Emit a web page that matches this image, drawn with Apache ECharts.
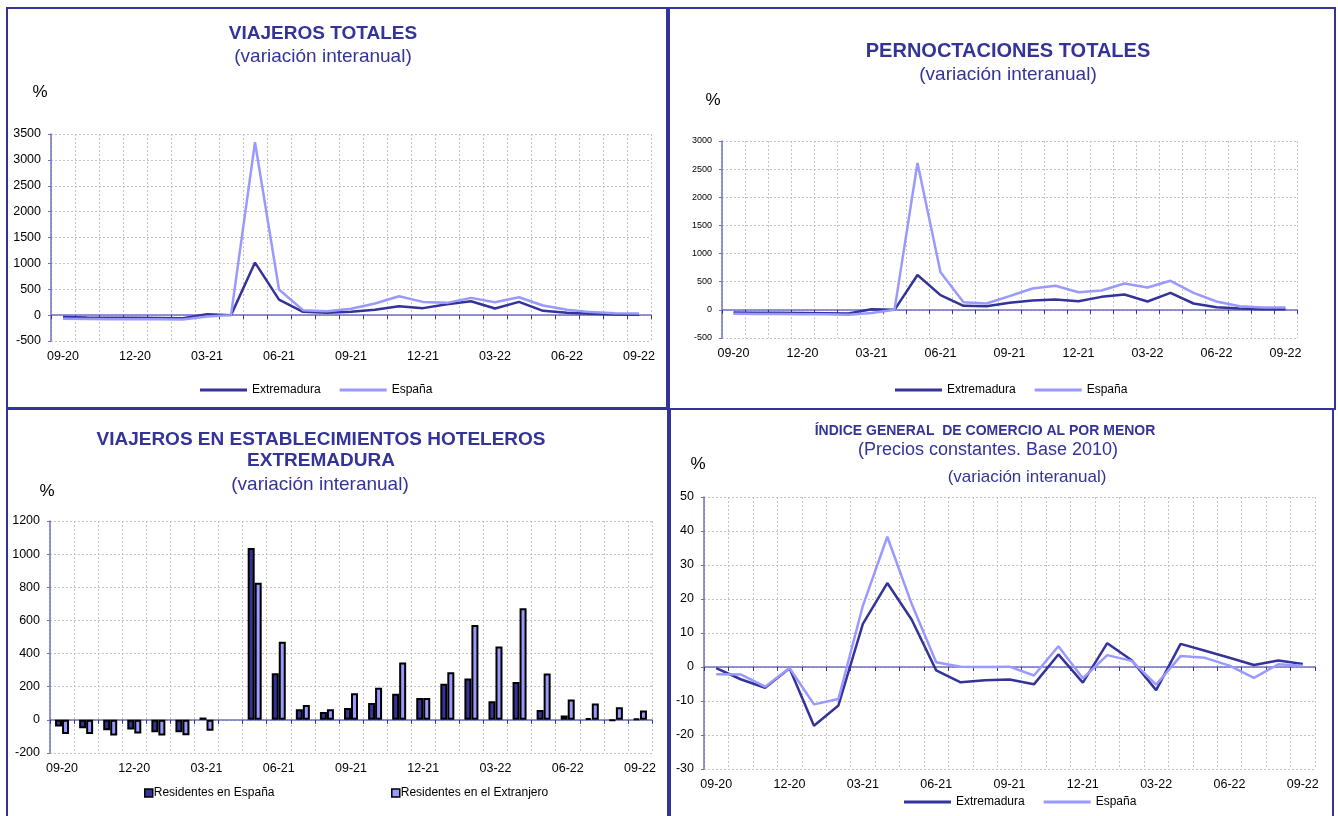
<!DOCTYPE html>
<html>
<head>
<meta charset="utf-8">
<script src="https://cdn.jsdelivr.net/npm/echarts@6/dist/echarts.min.js"></script>
<style>
  html, body { margin: 0; padding: 0; background: #fff; }
  #chart { width: 1338px; height: 816px; }
</style>
</head>
<body>
<div id="chart"></div>
<script>
// months on every x axis
const months = [
  "09-20", "10-20", "11-20", "12-20", "01-21", "02-21", "03-21", "04-21",
  "05-21", "06-21", "07-21", "08-21", "09-21", "10-21", "11-21", "12-21",
  "01-22", "02-22", "03-22", "04-22", "05-22", "06-22", "07-22", "08-22", "09-22",
];

// Viajeros totales (%)
const viajerosExt = [-35, -45, -50, -50, -55, -60, 15, 0, 1015, 300, 64, 45, 64, 103, 173, 135, 212, 269, 128, 256, 83, 45, 26, 13, 6];
const viajerosEsp = [-70, -75, -80, -80, -80, -85, -25, 0, 3340, 494, 96, 77, 122, 224, 365, 256, 237, 333, 250, 346, 186, 103, 58, 38, 32];

// Pernoctaciones totales (%)
const pernoctExt = [-45, -50, -50, -55, -60, -65, 10, 0, 620, 261, 71, 65, 125, 166, 184, 154, 231, 273, 148, 302, 113, 47, 24, 12, 12];
const pernoctEsp = [-70, -75, -75, -80, -80, -85, -55, 0, 2610, 670, 136, 113, 243, 380, 427, 314, 344, 469, 397, 516, 302, 148, 65, 42, 42];

// Viajeros en establecimientos hoteleros, Extremadura (%)
const hotelResEsp = [-40, -50, -62, -58, -75, -75, 14, null, 1037, 282, 64, 48, 71, 102, 158, 132, 218, 250, 112, 228, 60, 27, 11, -4, 7];
const hotelResExt = [-85, -85, -95, -83, -95, -93, -66, null, 828, 471, 90, 64, 160, 193, 346, 132, 287, 572, 443, 673, 280, 123, 98, 76, 56];

// Indice general de comercio al por menor (%)
const comercioExt = [-0.3, -3.6, -6.1, -0.4, -17.3, -11.3, 12.7, 24.7, 13.9, -1.0, -4.5, -3.9, -3.7, -5.1, 3.7, -4.6, 7.0, 2.0, -6.8, 6.8, 4.8, 2.7, 0.6, 1.9, 0.9];
const comercioEsp = [-2.1, -2.2, -5.8, -0.3, -11.0, -9.4, 18.0, 38.3, 18.5, 1.4, 0.1, 0.0, 0.1, -2.5, 6.1, -3.3, 3.5, 1.8, -5.2, 3.2, 2.7, 0.4, -3.2, 0.8, 0.4];

const FONT = '"Liberation Sans", Arial, sans-serif';
const DARK = "#333399";
const LIGHT = "#9999ff";
const AXIS = "#7070c0";
const GRIDLINE = "#c4c4c4";

const chart = echarts.init(document.getElementById("chart"));

// two x axes per grid: one at the bottom with labels + grid lines, one on the zero line with ticks
const xAxesFor = (g) => [
  {
    type: "category", gridIndex: g, data: months, boundaryGap: true, position: "bottom",
    axisLine: { show: false, onZero: false },
    axisTick: { show: false },
    axisLabel: { interval: 2, color: "#000", fontSize: 12.5, fontFamily: FONT, margin: 9 },
    splitLine: { show: true, interval: 0, lineStyle: { type: [2, 2], color: GRIDLINE } },
  },
  {
    type: "category", gridIndex: g, data: months, boundaryGap: true, position: "bottom",
    axisLine: { show: true, onZero: true, lineStyle: { color: AXIS, width: 1.5 } },
    axisTick: { show: true, interval: 0, length: 4, lineStyle: { color: DARK } },
    axisLabel: { show: false },
    splitLine: { show: false },
  },
];

const yAxisFor = (g, min, max, interval, fontSize) => ({
  type: "value", gridIndex: g, min, max, interval,
  axisLine: { show: true, lineStyle: { color: AXIS, width: 1.5 } },
  axisTick: { show: true, length: 3, lineStyle: { color: AXIS } },
  axisLabel: { color: "#000", fontSize, fontFamily: FONT, margin: 10, formatter: (v) => String(v) },
  splitLine: { show: true, lineStyle: { type: [2, 2], color: GRIDLINE } },
});

const lineSeries = (name, g, data, color) => ({
  name, type: "line", xAxisIndex: 2 * g, yAxisIndex: g, data,
  symbol: "none", lineStyle: { width: 2.5, color }, itemStyle: { color },
});

const barSeries = (name, data, color) => ({
  name, type: "bar", xAxisIndex: 4, yAxisIndex: 2, data,
  barWidth: 7, barGap: "0%",
  itemStyle: { color, borderColor: "#000", borderWidth: 2 },
});

const lineLegend = (left, top) => ({
  data: ["Extremadura", "España"], left, top, padding: 0,
  icon: "rect", itemWidth: 47, itemHeight: 3, itemGap: 19,
  textStyle: { fontSize: 12, color: "#000", fontFamily: FONT },
});

const barLegend = (name, left, top) => ({
  data: [name], left, top, padding: 0,
  icon: "rect", itemWidth: 8, itemHeight: 8,
  itemStyle: { borderColor: "#000", borderWidth: 1.5 },
  textStyle: { fontSize: 12, color: "#000", fontFamily: FONT, padding: [0, 0, 0, -4] },
});

const label = (text, x, y, font, fill) => ({
  type: "text", x, y, silent: true,
  style: {
    text, fill: fill || DARK, font,
    align: "center", verticalAlign: "middle",
    textAlign: "center", textVerticalAlign: "middle",
  },
});

const panel = (x, y, width, height) => ({
  type: "rect", silent: true,
  shape: { x, y, width, height },
  style: { fill: null, stroke: DARK, lineWidth: 2 },
});

const option = {
  backgroundColor: "#fff",
  animation: false,
  grid: [
    { left: 51, top: 134, width: 600, height: 207, outerBoundsMode: "none" },
    { left: 722, top: 141, width: 575, height: 197, outerBoundsMode: "none" },
    { left: 50, top: 521, width: 602, height: 232, outerBoundsMode: "none" },
    { left: 704, top: 497, width: 611, height: 272, outerBoundsMode: "none" },
  ],
  xAxis: [...xAxesFor(0), ...xAxesFor(1), ...xAxesFor(2), ...xAxesFor(3)],
  yAxis: [
    yAxisFor(0, -500, 3500, 500, 12.5),
    yAxisFor(1, -500, 3000, 500, 9),
    yAxisFor(2, -200, 1200, 200, 12.5),
    yAxisFor(3, -30, 50, 10, 12.5),
  ],
  legend: [
    lineLegend(200, 384),
    lineLegend(895, 384),
    barLegend("Residentes en España", 144, 787),
    barLegend("Residentes en el Extranjero", 391, 787),
    lineLegend(904, 796),
  ],
  series: [
    lineSeries("Extremadura", 0, viajerosExt, DARK),
    lineSeries("España", 0, viajerosEsp, LIGHT),
    lineSeries("Extremadura", 1, pernoctExt, DARK),
    lineSeries("España", 1, pernoctEsp, LIGHT),
    barSeries("Residentes en España", hotelResEsp, DARK),
    barSeries("Residentes en el Extranjero", hotelResExt, LIGHT),
    lineSeries("Extremadura", 3, comercioExt, DARK),
    lineSeries("España", 3, comercioEsp, LIGHT),
  ],
  graphic: [
    panel(7, 8, 660, 400),
    panel(669, 8, 666, 401),
    panel(7, 409, 661, 410),
    panel(670, 409, 663, 410),

    label("VIAJEROS TOTALES", 323, 34, "bold 19px " + FONT),
    label("(variación interanual)", 323, 57, "19px " + FONT),
    label("%", 40, 92, "17px " + FONT, "#000"),

    label("PERNOCTACIONES TOTALES", 1008, 51, "bold 20px " + FONT),
    label("(variación interanual)", 1008, 75, "19px " + FONT),
    label("%", 713, 100, "17px " + FONT, "#000"),

    label("VIAJEROS EN ESTABLECIMIENTOS HOTELEROS", 321, 440, "bold 19px " + FONT),
    label("EXTREMADURA", 321, 461, "bold 19px " + FONT),
    label("(variación interanual)", 320, 485, "19px " + FONT),
    label("%", 47, 491, "17px " + FONT, "#000"),

    label("ÍNDICE GENERAL  DE COMERCIO AL POR MENOR", 985, 431, "bold 14px " + FONT),
    label("(Precios constantes. Base 2010)", 988, 450, "18px " + FONT),
    label("(variación interanual)", 1027, 477, "17px " + FONT),
    label("%", 698, 464, "17px " + FONT, "#000"),
  ],
};

chart.setOption(option);
window.addEventListener("resize", () => chart.resize());
</script>
</body>
</html>
